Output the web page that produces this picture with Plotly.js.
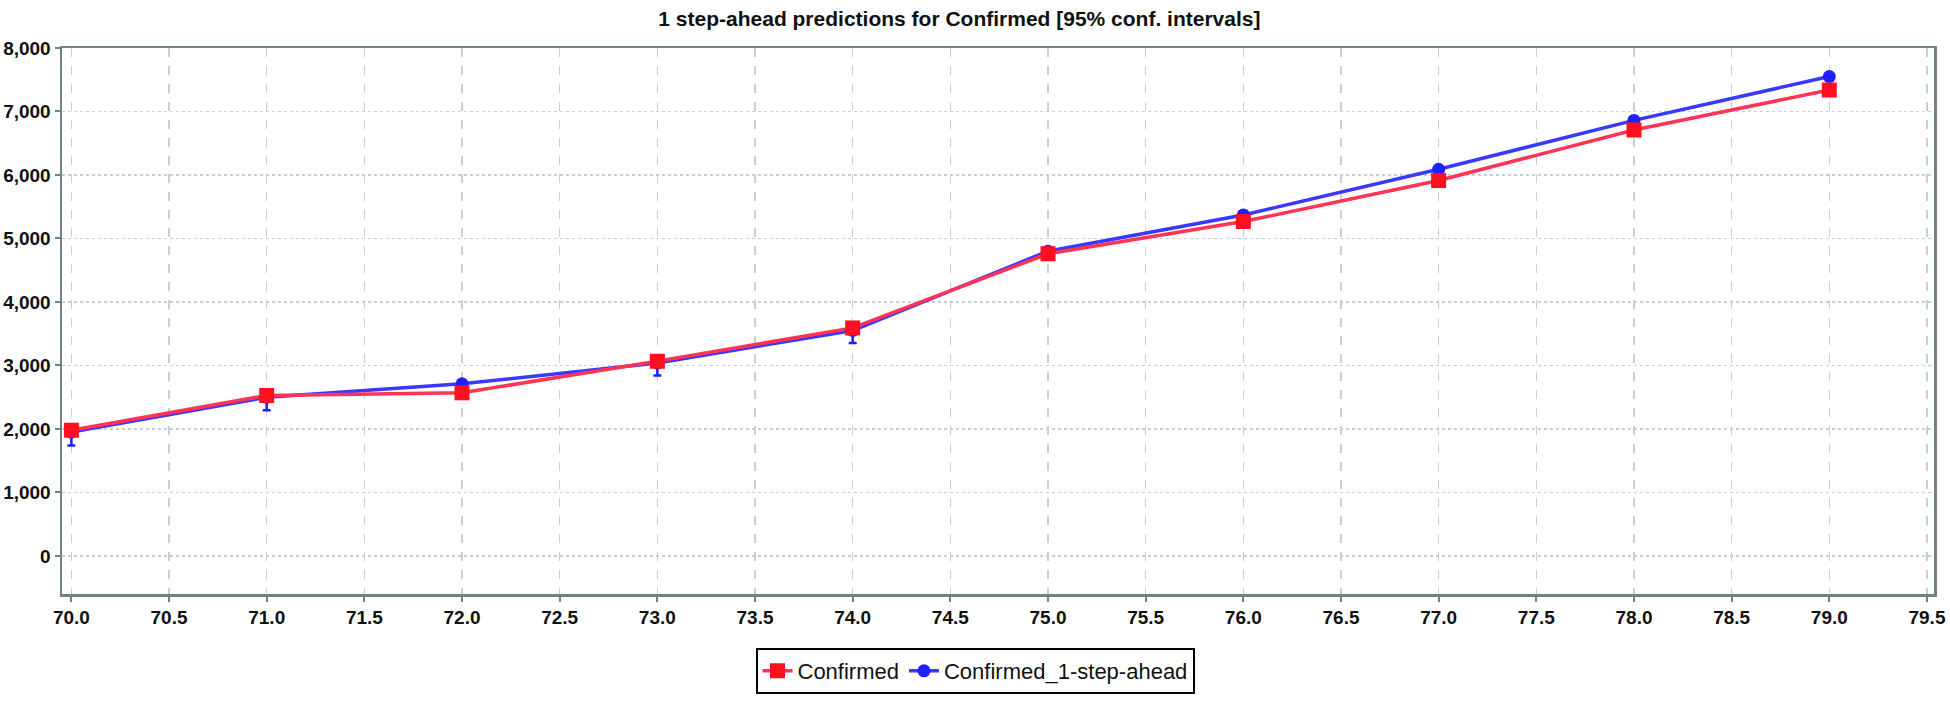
<!DOCTYPE html>
<html>
<head>
<meta charset="utf-8">
<script src="https://cdn.plot.ly/plotly-3.0.1.min.js"></script>
<style>
  html, body { margin: 0; padding: 0; background: #ffffff; }
  #chart { width: 1950px; height: 711px; }
</style>
</head>
<body>
<div id="chart"></div>
<script>
const steps = [70, 71, 72, 73, 74, 75, 76, 77, 78, 79];
const confirmed = [1980, 2527, 2569, 3066, 3591, 4759, 5267, 5912, 6709, 7338];
const confirmedAhead = [1950, 2500, 2710, 3040, 3550, 4800, 5370, 6090, 6860, 7550];
const aheadLowerErr = [210, 205, 150, 200, 195, 60, 60, 60, 60, 60];
const aheadUpperErr = [0, 0, 0, 0, 0, 0, 0, 0, 0, 0];
const seriesNames = ["Confirmed", "Confirmed_1-step-ahead"];
const titleText = "1 step-ahead predictions for Confirmed [95% conf. intervals]";

const FONT = '"Liberation Sans", Arial, Helvetica, sans-serif';
const axisColor = '#718282';
const gridColor = '#c6d0d0';

const traces = [
  {
    x: steps, y: confirmedAhead, name: seriesNames[1],
    type: 'scatter', mode: 'lines+markers',
    line: { color: '#3838ff', width: 3.5 },
    marker: { symbol: 'circle', size: 13, color: '#1f1fff' },
    error_y: { type: 'data', symmetric: false, array: aheadUpperErr, arrayminus: aheadLowerErr,
               color: '#1f1fff', thickness: 2.5, width: 4 },
    legendrank: 2
  },
  {
    x: steps, y: confirmed, name: seriesNames[0],
    type: 'scatter', mode: 'lines+markers',
    line: { color: '#ff3355', width: 3.5 },
    marker: { symbol: 'square', size: 15, color: '#ff1020' },
    legendrank: 1
  }
];

const layout = {
  width: 1950, height: 711,
  paper_bgcolor: '#ffffff', plot_bgcolor: '#ffffff',
  margin: { l: 62, r: 16, t: 48, b: 117 },
  title: {
    text: titleText,
    font: { family: FONT, size: 21, color: '#111111', weight: 'bold' },
    x: 0.492, xref: 'container', xanchor: 'center',
    y: 1 - 19 / 711, yref: 'container', yanchor: 'middle'
  },
  xaxis: {
    range: [69.952, 79.536], tick0: 70, dtick: 0.5, tickformat: '.1f',
    showgrid: true, gridcolor: gridColor, griddash: 'dash', gridwidth: 1.2,
    zeroline: false, showline: true, linecolor: axisColor, linewidth: 2.5, mirror: true,
    ticks: 'outside', ticklen: 5, tickcolor: axisColor, tickwidth: 2,
    ticklabeloverflow: 'allow',
    tickfont: { family: FONT, size: 19, color: '#111111', weight: 'bold' }
  },
  yaxis: {
    range: [-600, 8000], tick0: 0, dtick: 1000, tickformat: ',d',
    showgrid: true, gridcolor: gridColor, griddash: 'dot', gridwidth: 1.5,
    zeroline: false, showline: true, linecolor: axisColor, linewidth: 2.5, mirror: true,
    ticks: 'outside', ticklen: 5, tickcolor: axisColor, tickwidth: 2,
    ticklabeloverflow: 'allow',
    tickfont: { family: FONT, size: 19, color: '#111111', weight: 'bold' }
  },
  showlegend: true,
  legend: {
    orientation: 'h',
    x: 0.5, xref: 'container', xanchor: 'center',
    y: 1 - 671 / 711, yref: 'container', yanchor: 'middle',
    bordercolor: '#000000', borderwidth: 2, bgcolor: '#ffffff',
    font: { family: FONT, size: 22, color: '#111111' },
    itemwidth: 30, tracegroupgap: 0
  }
};

Plotly.newPlot('chart', traces, layout, { staticPlot: true, displayModeBar: false });
</script>
</body>
</html>
